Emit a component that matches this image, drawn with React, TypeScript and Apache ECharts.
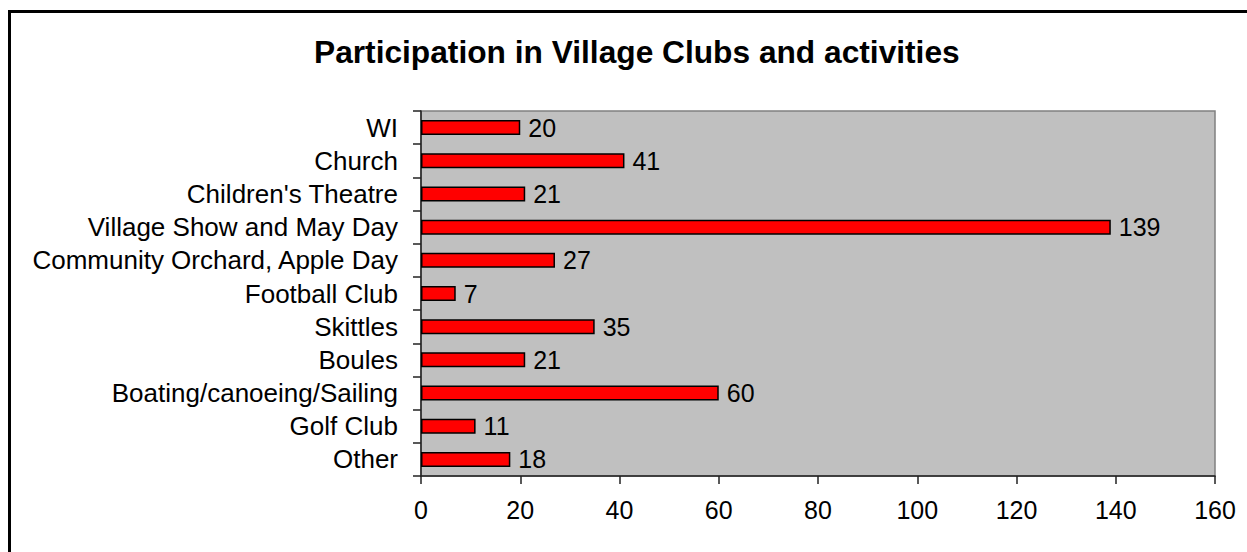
import React, { useEffect, useRef } from "react";
import * as echarts from "echarts";

const titleText = "Participation in Village Clubs and activities";
const categories = [
  "WI",
  "Church",
  "Children's Theatre",
  "Village Show and May Day",
  "Community Orchard, Apple Day",
  "Football Club",
  "Skittles",
  "Boules",
  "Boating/canoeing/Sailing",
  "Golf Club",
  "Other",
];
const values = [20, 41, 21, 139, 27, 7, 35, 21, 60, 11, 18];
const xMin = 0;
const xMax = 160;
const xInterval = 20;

const FONT = "'Liberation Sans', Arial, sans-serif";

export default function App() {
  const ref = useRef<HTMLDivElement>(null);
  useEffect(() => {
    if (!ref.current) return;
    const chart = echarts.init(ref.current, undefined, { renderer: "svg" });
    chart.setOption({
      animation: false,
      backgroundColor: "#ffffff",
      title: {
        text: titleText,
        left: 309,
        top: 31,
        textStyle: { fontFamily: FONT, fontSize: 31.7, fontWeight: "bold", color: "#000" },
      },
      graphic: [
        {
          type: "rect",
          shape: { x: 9.5, y: 11.5, width: 1400, height: 700 },
          style: { fill: "none", stroke: "#000", lineWidth: 3 },
          silent: true,
        },
      ],
      grid: {
        left: 421,
        top: 111,
        right: 32,
        bottom: 76,
        show: true,
        backgroundColor: "#C0C0C0",
        borderColor: "#808080",
        borderWidth: 1.5,
        containLabel: false,
      },
      xAxis: {
        type: "value",
        min: xMin,
        max: xMax,
        interval: xInterval,
        splitLine: { show: false },
        axisLine: { show: true, lineStyle: { color: "#222", width: 1.5 } },
        axisTick: { show: true, length: 8, lineStyle: { color: "#222", width: 1.5 } },
        axisLabel: { fontFamily: FONT, fontSize: 25, color: "#000", margin: 21 },
      },
      yAxis: {
        type: "category",
        data: categories,
        inverse: true,
        axisLine: { show: true, lineStyle: { color: "#222", width: 1.5 } },
        axisTick: { show: true, length: 8, lineStyle: { color: "#222", width: 1.5 } },
        axisLabel: { interval: 0, fontFamily: FONT, fontSize: 26, color: "#000", margin: 23 },
      },
      series: [
        {
          type: "bar",
          data: values,
          barWidth: 15,
          itemStyle: { color: "#FF0000", borderColor: "#000", borderWidth: 1.5 },
          label: {
            show: true,
            position: "right",
            distance: 8,
            fontFamily: FONT,
            fontSize: 25,
            color: "#000",
          },
        },
      ],
    });
    return () => chart.dispose();
  }, []);
  return (
    <div
      ref={ref}
      style={{ position: "absolute", left: 0, top: 0, width: 1247, height: 552 }}
    />
  );
}
